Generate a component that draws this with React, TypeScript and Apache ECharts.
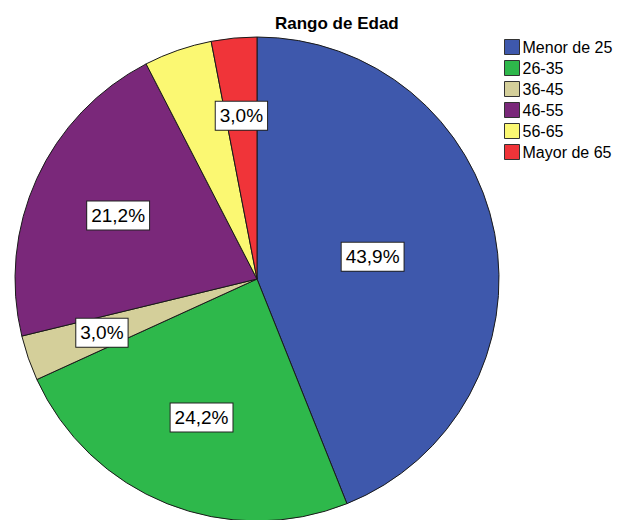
import React, { useEffect, useRef } from "react";
import * as echarts from "echarts";

const categories = ["Menor de 25", "26-35", "36-45", "46-55", "56-65", "Mayor de 65"];
const counts = [29, 16, 2, 14, 3, 2];
const showLabel = [true, true, true, true, false, true];
const colors = ["#3E58AC", "#2EB84B", "#D4CF9A", "#7A287A", "#FBF872", "#F03439"];
const titleText = "Rango de Edad";

const CX = 257;
const CY = 279;
const R = 242;
const FONT = "'Liberation Sans', Arial, sans-serif";

export default function App() {
  const ref = useRef<HTMLDivElement>(null);
  useEffect(() => {
    if (!ref.current) return;
    const chart = echarts.init(ref.current, undefined, { renderer: "svg" });
    const total = counts.reduce((a, b) => a + b, 0);
    // mid angle and centroid distance of each slice, from the data
    const starts: number[] = [];
    let acc = 0;
    counts.forEach((v) => {
      starts.push(acc);
      acc += v;
    });
    const shift = counts.map((v, i) => {
      const theta = (v / total) * 2 * Math.PI;
      const mid = ((starts[i] + v / 2) / total) * 2 * Math.PI;
      const a = theta / 2;
      const centroid = (2 * R * Math.sin(a)) / (3 * a);
      const d = centroid - R / 2;
      return { dx: d * Math.sin(mid), dy: -d * Math.cos(mid) };
    });
    chart.setOption({
      animation: false,
      title: {
        text: titleText,
        left: 275,
        top: 15,
        padding: 0,
        textStyle: { fontFamily: FONT, fontSize: 17, fontWeight: "bold", color: "#000" },
      },
      legend: {
        orient: "vertical",
        left: 504,
        top: 39,
        padding: 0,
        itemWidth: 15,
        itemHeight: 15,
        itemGap: 5,
        icon: "rect",
        itemStyle: { borderColor: "#333", borderWidth: 1 },
        textStyle: { fontFamily: FONT, fontSize: 16, lineHeight: 16, color: "#000", padding: [0, 0, 0, -2] },
        data: categories,
      },
      series: [
        {
          type: "pie",
          center: [CX, CY],
          radius: [0, R],
          startAngle: 90,
          clockwise: true,
          silent: true,
          itemStyle: { borderColor: "#1a1a1a", borderWidth: 1 },
          label: {
            show: true,
            position: "inside",
            formatter: (p: any) => `${((p.value / total) * 100).toFixed(1).replace(".", ",")}%`,
            fontFamily: FONT,
            fontSize: 19,
            lineHeight: 21,
            color: "#000",
            backgroundColor: "#fff",
            borderColor: "#222",
            borderWidth: 1,
            padding: [4, 4, 3, 4],
          },
          labelLine: { show: false },
          labelLayout: (params: any) => shift[params.dataIndex],
          data: categories.map((name, i) => ({
            name,
            value: counts[i],
            itemStyle: { color: colors[i] },
            label: { show: showLabel[i] },
          })),
        },
      ],
    });
    return () => chart.dispose();
  }, []);
  return (
    <div
      ref={ref}
      style={{ position: "fixed", left: 0, top: 0, width: 617, height: 520, background: "#fff" }}
    />
  );
}
